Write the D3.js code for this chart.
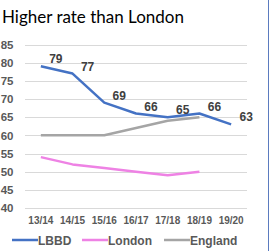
<!DOCTYPE html>
<html>
<head>
<meta charset="utf-8">
<script src="https://cdn.jsdelivr.net/npm/d3@7"></script>
<style>
  body { margin: 0; background: #fff; }
  svg { display: block; }
</style>
</head>
<body>
<svg id="chart" width="272" height="251"></svg>
<script>
const width = 272;
const height = 251;

// data
const years = ["13/14", "14/15", "15/16", "16/17", "17/18", "18/19", "19/20"];
const lbbd = [79, 77, 69, 66, 65, 66, 63];
const london = [54, 52, 51, 50, 49, 50, null];
const england = [60, 60, 60, 62, 64, 65, null];
const yTicks = [40, 45, 50, 55, 60, 65, 70, 75, 80, 85];

const series = [
  { name: "LBBD", values: lbbd, color: "#4472c4" },
  { name: "London", values: london, color: "#ee82e4" },
  { name: "England", values: england, color: "#a5a5a5" }
];

const svg = d3.select("#chart");

const x = d3.scaleBand()
  .domain(years)
  .range([25, 247]);

const y = d3.scaleLinear()
  .domain([40, 85])
  .range([208, 44.5]);

svg.append("text")
  .attr("x", 2)
  .attr("y", 23)
  .attr("font-family", "Lato, sans-serif")
  .attr("font-size", 17)
  .attr("fill", "#000")
  .text("Higher rate than London");

// gridlines
svg.append("g")
  .selectAll("line")
  .data(yTicks)
  .join("line")
    .attr("x1", 25)
    .attr("x2", 247)
    .attr("y1", d => Math.round(y(d)) + 0.5)
    .attr("y2", d => Math.round(y(d)) + 0.5)
    .attr("stroke", "#d9d9d9")
    .attr("stroke-width", 1);

const yAxis = svg.append("g")
  .attr("transform", "translate(13.5,0)")
  .call(d3.axisLeft(y).tickValues(yTicks).tickSize(0).tickPadding(0));
yAxis.select(".domain").remove();
yAxis.selectAll("text")
  .attr("font-family", "Arial, 'Liberation Sans', sans-serif")
  .attr("font-size", 11.5)
  .attr("font-weight", "bold")
  .attr("fill", "#595959");

const xAxis = svg.append("g")
  .attr("transform", "translate(0,216.5)")
  .call(d3.axisBottom(x).tickSize(0).tickPadding(0));
xAxis.select(".domain").remove();
xAxis.selectAll("text")
  .attr("font-family", "Arial, 'Liberation Sans', sans-serif")
  .attr("font-size", 10)
  .attr("font-weight", "bold")
  .attr("fill", "#595959");

const line = d3.line()
  .defined(d => d != null)
  .x((d, i) => x(years[i]) + x.bandwidth() / 2)
  .y(d => y(d));

// England and London under LBBD
svg.append("g")
  .selectAll("path")
  .data(series.slice().reverse())
  .join("path")
    .attr("d", d => line(d.values))
    .attr("fill", "none")
    .attr("stroke", d => d.color)
    .attr("stroke-width", 2.5)
    .attr("stroke-linejoin", "round");

svg.append("g")
  .selectAll("text")
  .data(lbbd)
  .join("text")
    .attr("x", (d, i) => x(years[i]) + x.bandwidth() / 2 + 15)
    .attr("y", d => y(d) - 3)
    .attr("text-anchor", "middle")
    .attr("font-family", "Arial, 'Liberation Sans', sans-serif")
    .attr("font-size", 12)
    .attr("font-weight", "bold")
    .attr("fill", "#404040")
    .text(d => d);

// legend
const legendX = [12, 82, 164];
const legend = svg.append("g")
  .selectAll("g")
  .data(series)
  .join("g")
    .attr("transform", (d, i) => `translate(${legendX[i]},240)`);

legend.append("line")
  .attr("x1", 0)
  .attr("x2", 26)
  .attr("stroke", d => d.color)
  .attr("stroke-width", 2.5);

legend.append("text")
  .attr("x", 26)
  .attr("y", 4.5)
  .attr("font-family", "Arial, 'Liberation Sans', sans-serif")
  .attr("font-size", 12)
  .attr("font-weight", "bold")
  .attr("fill", "#595959")
  .text(d => d.name);

// frame edge on the right
svg.append("line")
  .attr("x1", 268.5)
  .attr("x2", 268.5)
  .attr("y1", 0)
  .attr("y2", height)
  .attr("stroke", "#5b7bbf")
  .attr("stroke-width", 1);
</script>
</body>
</html>
